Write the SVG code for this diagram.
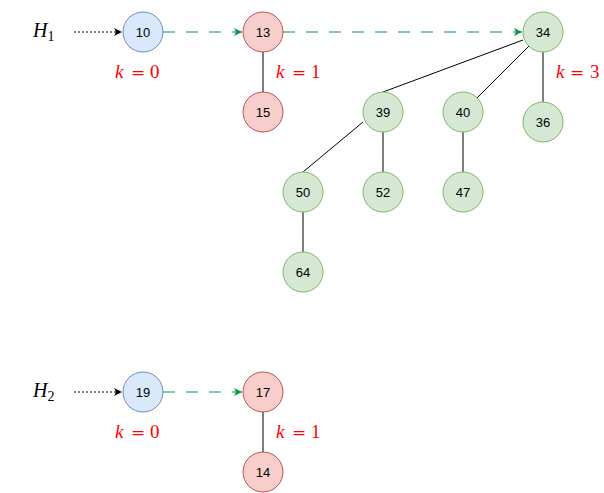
<svg xmlns="http://www.w3.org/2000/svg" width="604" height="493" viewBox="0 0 604 493">
<style>
.n circle{stroke-width:1}
.b circle{fill:#dae8fc;stroke:#6c8ebf}
.r circle{fill:#f8cecc;stroke:#b85450}
.g circle{fill:#d5e8d4;stroke:#82b366}
.n text{font-family:"Liberation Sans",Arial,sans-serif;font-size:13px;fill:#000;text-anchor:middle;dominant-baseline:central}
.e{stroke:#000;stroke-width:1;fill:none}
.dot{stroke:#000;stroke-width:1;fill:none;stroke-dasharray:2 2}
.gr{stroke:#00994D;stroke-width:1;fill:none;stroke-dasharray:12 11}
.m{font-family:"Liberation Serif","Times New Roman",serif;font-size:20px;fill:#000}
.k{font-family:"Liberation Serif","Times New Roman",serif;font-size:19px;fill:#FF0000}
.i{font-style:italic}
.eq{font-family:"DejaVu Serif",serif;font-size:17px}
</style>
<defs>
<marker id="ab" markerWidth="9" markerHeight="9" refX="8" refY="4.5" orient="auto" markerUnits="userSpaceOnUse"><path d="M0,0.5 L8,4.5 L0,8.5 L2,4.5 z" fill="#000"/></marker>
<marker id="ag" markerWidth="9" markerHeight="9" refX="8" refY="4.5" orient="auto" markerUnits="userSpaceOnUse"><path d="M0,0.5 L8,4.5 L0,8.5 L2,4.5 z" fill="#00994D"/></marker>
</defs>
<g id="connectors">
<line class="dot" x1="74" y1="32" x2="122" y2="32" marker-end="url(#ab)"/>
<line class="gr" x1="163" y1="32" x2="242" y2="32" marker-end="url(#ag)"/>
<line class="gr" x1="283" y1="32" x2="522" y2="32" marker-end="url(#ag)"/>
<line class="e" x1="263" y1="52" x2="263" y2="92"/>
<line class="e" x1="523" y1="40" x2="383" y2="92"/>
<line class="e" x1="529" y1="46" x2="477" y2="98"/>
<line class="e" x1="543" y1="52" x2="543" y2="102"/>
<line class="e" x1="363" y1="122" x2="303" y2="172"/>
<line class="e" x1="383" y1="132" x2="383" y2="172"/>
<line class="e" x1="463" y1="132" x2="463" y2="172"/>
<line class="e" x1="303" y1="212" x2="303" y2="252"/>
<line class="dot" x1="74" y1="392" x2="122" y2="392" marker-end="url(#ab)"/>
<line class="gr" x1="163" y1="392" x2="242" y2="392" marker-end="url(#ag)"/>
<line class="e" x1="263" y1="412" x2="263" y2="452"/>
</g>
<g id="n10" class="n b"><circle cx="143" cy="32" r="20"/><text x="143" y="32">10</text></g>
<g id="n13" class="n r"><circle cx="263" cy="32" r="20"/><text x="263" y="32">13</text></g>
<g id="n15" class="n r"><circle cx="263" cy="112" r="20"/><text x="263" y="112">15</text></g>
<g id="n34" class="n g"><circle cx="543" cy="32" r="20"/><text x="543" y="32">34</text></g>
<g id="n39" class="n g"><circle cx="383" cy="112" r="20"/><text x="383" y="112">39</text></g>
<g id="n40" class="n g"><circle cx="463" cy="112" r="20"/><text x="463" y="112">40</text></g>
<g id="n36" class="n g"><circle cx="543" cy="122" r="20"/><text x="543" y="122">36</text></g>
<g id="n50" class="n g"><circle cx="303" cy="192" r="20"/><text x="303" y="192">50</text></g>
<g id="n52" class="n g"><circle cx="383" cy="192" r="20"/><text x="383" y="192">52</text></g>
<g id="n47" class="n g"><circle cx="463" cy="192" r="20"/><text x="463" y="192">47</text></g>
<g id="n64" class="n g"><circle cx="303" cy="272" r="20"/><text x="303" y="272">64</text></g>
<g id="n19" class="n b"><circle cx="143" cy="392" r="20"/><text x="143" y="392">19</text></g>
<g id="n17" class="n r"><circle cx="263" cy="392" r="20"/><text x="263" y="392">17</text></g>
<g id="n14" class="n r"><circle cx="263" cy="472" r="20"/><text x="263" y="472">14</text></g>
<g id="labels">
<text class="m" x="33" y="37"><tspan class="i">H</tspan><tspan font-size="14" dy="4">1</tspan></text>
<text class="m" x="33" y="397"><tspan class="i">H</tspan><tspan font-size="14" dy="4">2</tspan></text>
<text class="k" y="78"><tspan class="i" x="115">k</tspan><tspan class="eq" x="131">=</tspan><tspan x="150">0</tspan></text>
<text class="k" y="78"><tspan class="i" x="276">k</tspan><tspan class="eq" x="292">=</tspan><tspan x="311">1</tspan></text>
<text class="k" y="78"><tspan class="i" x="556">k</tspan><tspan class="eq" x="570">=</tspan><tspan x="590">3</tspan></text>
<text class="k" y="438"><tspan class="i" x="115">k</tspan><tspan class="eq" x="131">=</tspan><tspan x="150">0</tspan></text>
<text class="k" y="438"><tspan class="i" x="276">k</tspan><tspan class="eq" x="292">=</tspan><tspan x="311">1</tspan></text>
</g>
</svg>
